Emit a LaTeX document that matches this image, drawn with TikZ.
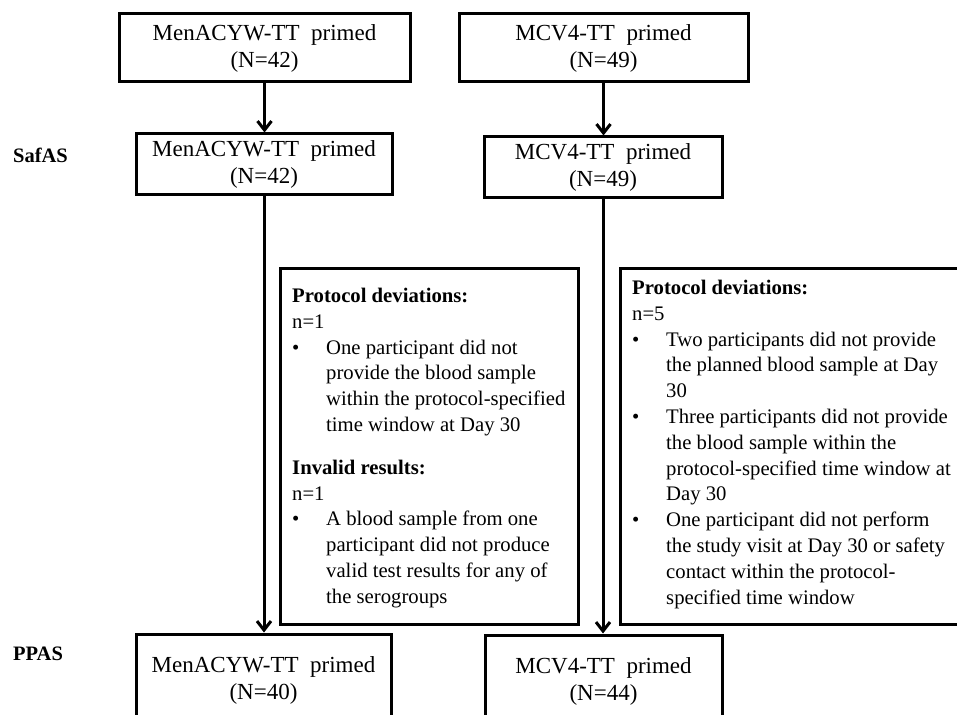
\documentclass[tikz,border=0pt]{standalone}
\usepackage{fontspec}
\setmainfont{Liberation Serif}
\usepackage{tikz}
\usetikzlibrary{arrows.meta}

\newcommand{\bulletmark}{\makebox[34pt][l]{\textbullet}}
\newcommand{\bulletgap}{\hspace*{34pt}}

\begin{document}
\begin{tikzpicture}[x=1pt, y=-1pt,
    armbox/.style={draw, line width=3pt, align=center, inner sep=0pt, font=\fontsize{23}{27}\selectfont},
    notebox/.style={draw, line width=3pt, inner sep=0pt},
    notetext/.style={align=left, inner sep=0pt, anchor=north west, font=\fontsize{20.7}{25.8}\selectfont},
    setlabel/.style={anchor=base west, inner sep=0pt, font=\fontsize{20.5}{24}\selectfont\bfseries},
    flow/.style={line width=3pt, -{Straight Barb[length=9pt, width=14pt]}}]

    \useasboundingbox (0,0) rectangle (957,714);

    % Grupos de partida
    \node[armbox, minimum width=291, minimum height=68] (menTop) at (264.5,48) {MenACYW-TT\ \ primed\\(N=42)};
    \node[armbox, minimum width=289, minimum height=68] (mcvTop) at (603.5,48) {MCV4-TT\ \ primed\\(N=49)};

    % Conjunto SafAS
    \node[setlabel] (safas) at (13,163) {SafAS};
    \node[armbox, minimum width=256, minimum height=60] (menSaf) at (264,164) {MenACYW-TT\ \ primed\\(N=42)};
    \node[armbox, minimum width=238, minimum height=60] (mcvSaf) at (603,167) {MCV4-TT\ \ primed\\(N=49)};

    % Conjunto PPAS (cortado por abajo)
    \node[setlabel] (ppas) at (13,660) {PPAS};
    \node[armbox, minimum width=255, minimum height=93] (menPP) at (263.5,680.5) {MenACYW-TT\ \ primed\\(N=40)};
    \node[armbox, minimum width=237, minimum height=93] (mcvPP) at (603.5,681.5) {MCV4-TT\ \ primed\\(N=44)};

    % Cajas de exclusiones
    \node[notebox, minimum width=298, minimum height=356] (menDev) at (429,446) {};
    \node[notebox, minimum width=355, minimum height=356] (mcvDev) at (797.5,446) {};

    \node[notetext] (menDevText) at (292,288) {\textbf{Protocol deviations:}\\
        n=1\\
        \bulletmark One participant did not\\
        \bulletgap provide the blood sample\\
        \bulletgap within the protocol-specified\\
        \bulletgap time window at Day 30\\[17pt]
        \textbf{Invalid results:}\\
        n=1\\
        \bulletmark A blood sample from one\\
        \bulletgap participant did not produce\\
        \bulletgap valid test results for any of\\
        \bulletgap the serogroups};

    \node[notetext] (mcvDevText) at (632,280) {\textbf{Protocol deviations:}\\
        n=5\\
        \bulletmark Two participants did not provide\\
        \bulletgap the planned blood sample at Day\\
        \bulletgap 30\\
        \bulletmark Three participants did not provide\\
        \bulletgap the blood sample within the\\
        \bulletgap protocol-specified time window at\\
        \bulletgap Day 30\\
        \bulletmark One participant did not perform\\
        \bulletgap the study visit at Day 30 or safety\\
        \bulletgap contact within the protocol-\\
        \bulletgap specified time window};

    % Flechas
    \draw[flow] (menTop.south) -- (menTop.south |- menSaf.north);
    \draw[flow] (mcvTop.south) -- (mcvTop.south |- mcvSaf.north);
    \draw[flow] (menSaf.south) -- (menSaf.south |- menPP.north);
    \draw[flow] (mcvSaf.south) -- (mcvSaf.south |- mcvPP.north);

\end{tikzpicture}
\end{document}
